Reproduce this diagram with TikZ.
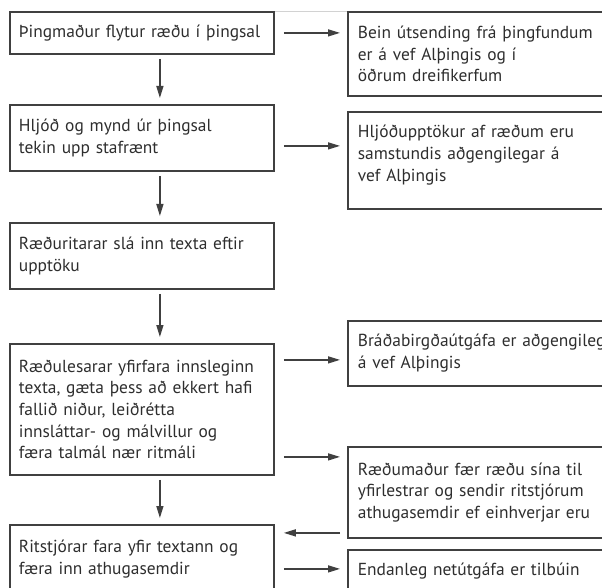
\documentclass[tikz,border=0pt]{standalone}
\usepackage{fontspec}
\setmainfont{PT Sans}
\usetikzlibrary{arrows.meta}
\definecolor{trait}{HTML}{404040}
\definecolor{texte}{HTML}{2E2E2E}
\begin{document}
\begin{tikzpicture}[x=1pt,y=-1pt,
	etape/.style={draw=trait, line width=1.8pt, text=texte, anchor=north west, align=left,
		inner ysep=0pt, font=\fontsize{17.4}{21.7}\selectfont},
	gauche/.style={etape, text width=246pt, minimum width=264pt},
	droite/.style={etape, text width=272pt, minimum width=292pt},
	fleche/.style={draw=trait, line width=1.4pt, shorten <=4pt, shorten >=6pt,
		-{Triangle[length=12pt,width=7pt]}},
	flecheh/.style={fleche, shorten <=9pt, shorten >=7pt}]
\useasboundingbox (0,0) rectangle (602,588);
\clip (0,0) rectangle (602,588);
%					Boîtes de gauche :
\node[gauche, minimum height=42pt] (parle) at (9,11) {Þingmaður flytur ræðu í þingsal};
\node[gauche, minimum height=66pt] (hljod) at (9,104) {Hljóð og mynd úr þingsal\\tekin upp stafrænt};
\node[gauche, minimum height=66pt] (rita) at (9,222) {Ræðuritarar slá inn texta eftir\\upptöku};
\node[gauche, minimum height=131pt] (lesa) at (9,343) {Ræðulesarar yfirfara innsleginn\\texta, gæta þess að ekkert hafi\\fallið niður, leiðrétta\\innsláttar- og málvillur og\\færa talmál nær ritmáli};
\node[gauche, minimum height=68pt] (ritstj) at (9,524) {Ritstjórar fara yfir textann og\\færa inn athugasemdir};
%					Boîtes de droite :
\node[droite, minimum height=84pt] (beint) at (347,11) {Bein útsending frá þingfundum\\er á vef Alþingis og í\\öðrum dreifikerfum};
\node[droite, minimum height=97pt] (upptaka) at (347,111) {Hljóðupptökur af ræðum eru\\samstundis aðgengilegar á\\vef Alþingis\\[-7pt]\mbox{}};
\node[droite, minimum height=65pt] (braeda) at (347,320) {Bráðabirgðaútgáfa er aðgengileg\\á vef Alþingis};
\node[droite, minimum height=91pt] (yfirlestur) at (347,446) {Ræðumaður fær ræðu sína til\\yfirlestrar og sendir ritstjórum\\athugasemdir ef einhverjar eru};
\node[droite, minimum height=42pt] (netutg) at (347,549) {Endanleg netútgáfa er tilbúin};
%					Trait gris du haut :
\draw[gray!35, line width=0.6pt] (parle.north east) -- (beint.north west);
%					Flèches verticales :
\draw[fleche] ([xshift=18pt]parle.south) -- ([xshift=18pt]hljod.north);
\draw[fleche] ([xshift=18pt]hljod.south) -- ([xshift=18pt]rita.north);
\draw[fleche] ([xshift=18pt]rita.south) -- ([xshift=18pt]lesa.north);
\draw[fleche] ([xshift=18pt]lesa.south) -- ([xshift=18pt]ritstj.north);
%					Flèches horizontales :
\draw[flecheh] (parle.east) -- (parle.east -| beint.west);
\draw[flecheh] ([yshift=-8pt]hljod.east) -- ([yshift=14.5pt]upptaka.west);
\draw[flecheh] ([yshift=49.5pt]lesa.east) -- ([yshift=-6.5pt]braeda.west);
\draw[flecheh] ([yshift=-47.5pt]lesa.east) -- ([yshift=35.5pt]yfirlestur.west);
\draw[fleche, shorten <=7pt, shorten >=9pt] ([yshift=-40.5pt]yfirlestur.west) -- ([yshift=26pt]ritstj.east);
\draw[flecheh] ([yshift=-10pt]ritstj.east) -- ([yshift=2pt]netutg.west);
\end{tikzpicture}
\end{document}
